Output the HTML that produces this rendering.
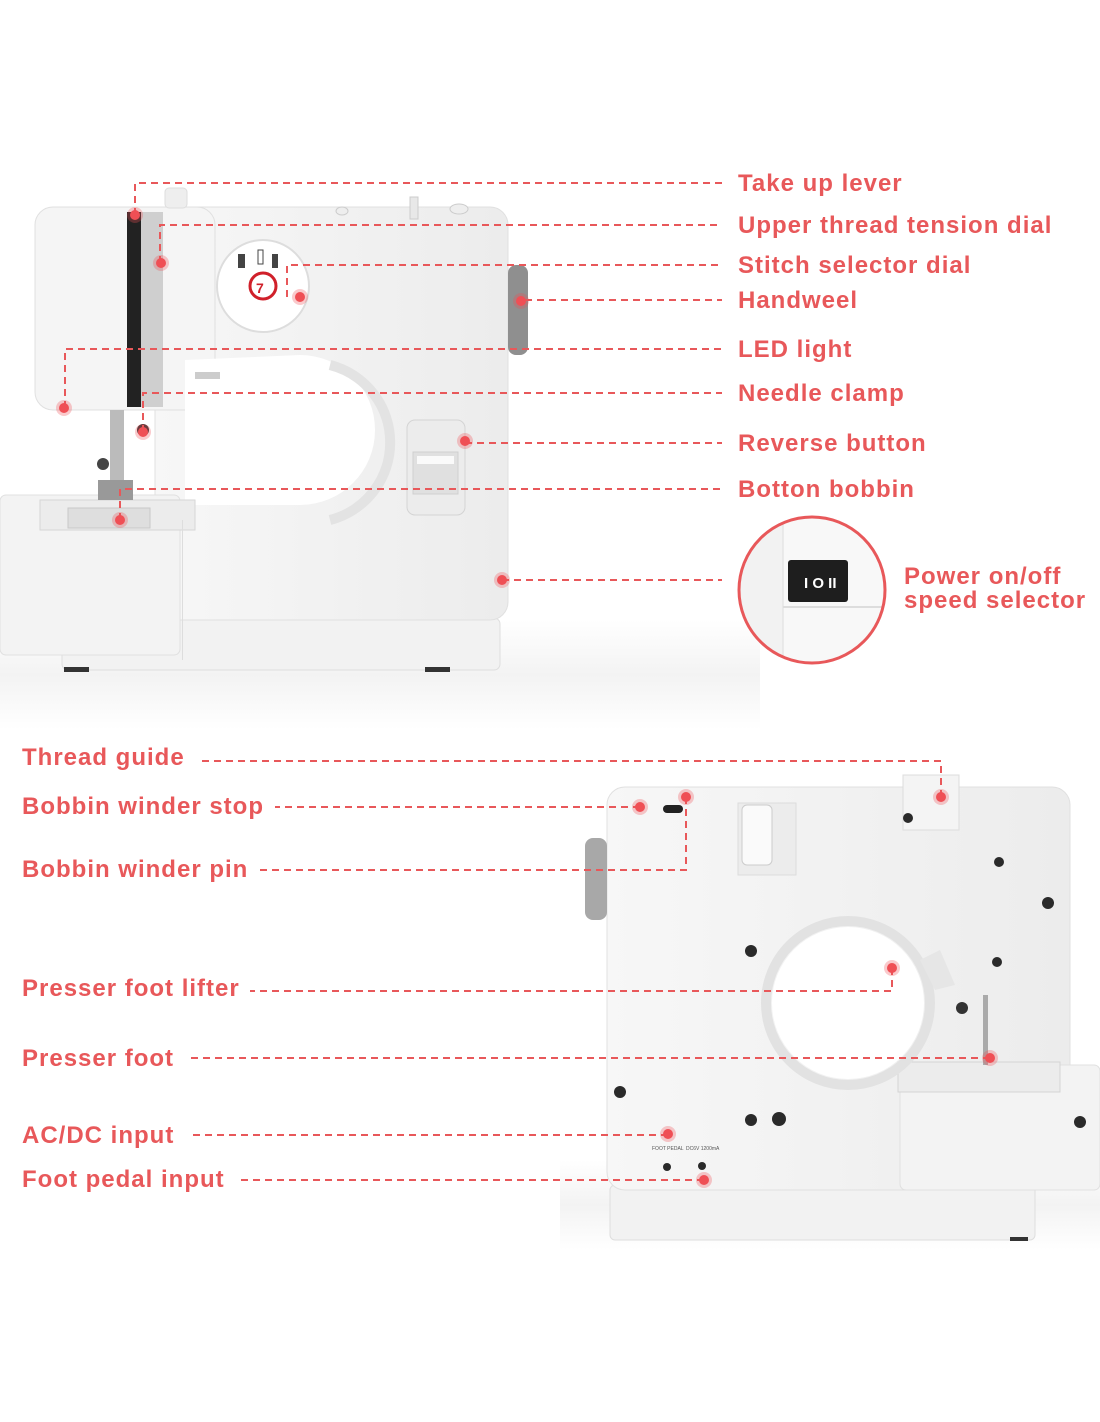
<!DOCTYPE html>
<html><head><meta charset="utf-8"><style>
html,body{margin:0;padding:0;background:#fff;}
svg{display:block}
text{font-family:"Liberation Sans","DejaVu Sans",sans-serif;font-weight:bold;fill:#e8585a;font-size:24px;letter-spacing:1px}
.d{stroke:#e8585a;stroke-width:2;stroke-dasharray:7,5;fill:none}
.dot{fill:#ef4f55}
.dh{fill:#ef4f55;opacity:.3}
</style></head><body>
<svg width="1100" height="1422" viewBox="0 0 1100 1422" xmlns="http://www.w3.org/2000/svg">
<defs>
<linearGradient id="bg" x1="0" y1="0" x2="0" y2="1"><stop offset="0" stop-color="#fff"/><stop offset=".5" stop-color="#f3f3f3"/><stop offset="1" stop-color="#fff"/></linearGradient>
<linearGradient id="body" x1="0" y1="0" x2="1" y2="0"><stop offset="0" stop-color="#f7f7f7"/><stop offset="1" stop-color="#ececec"/></linearGradient>
</defs>
<rect x="0" y="620" width="760" height="110" fill="url(#bg)"/>
<rect x="560" y="1160" width="540" height="90" fill="url(#bg)"/>

<!-- ===== TOP MACHINE ===== -->
<rect x="62" y="618" width="438" height="52" rx="6" fill="#f2f2f2" stroke="#dedede"/>
<rect x="155" y="207" width="353" height="413" rx="18" fill="url(#body)" stroke="#e0e0e0"/>
<rect x="35" y="207" width="180" height="203" rx="18" fill="#f5f5f5" stroke="#e0e0e0"/>
<path d="M185 360 L300 355 A75 75 0 0 1 300 505 L185 505 Z" fill="#fff"/>
<path d="M330 365 A80 80 0 0 1 330 520" stroke="#e3e3e3" stroke-width="10" fill="none"/>
<rect x="0" y="495" width="180" height="160" rx="6" fill="#f3f3f3" stroke="#e0e0e0"/>
<rect x="40" y="500" width="155" height="30" fill="#ececec" stroke="#d6d6d6"/>
<rect x="68" y="508" width="82" height="20" fill="#dedede" stroke="#c8c8c8"/>
<rect x="127" y="212" width="14" height="195" fill="#222"/>
<rect x="141" y="212" width="22" height="195" fill="#cfcfcf"/>
<rect x="110" y="410" width="14" height="80" fill="#bbb"/>
<circle cx="103" cy="464" r="6" fill="#444"/>
<rect x="98" y="480" width="35" height="20" fill="#999"/>
<circle cx="143" cy="430" r="6" fill="#333"/>
<rect x="195" y="372" width="25" height="7" fill="#ccc"/>
<rect x="165" y="188" width="22" height="20" rx="4" fill="#eee" stroke="#ddd"/>
<rect x="410" y="197" width="8" height="22" fill="#e8e8e8" stroke="#ccc"/>
<ellipse cx="459" cy="209" rx="9" ry="5" fill="#eee" stroke="#ccc"/>
<ellipse cx="342" cy="211" rx="6" ry="4" fill="#eee" stroke="#ccc"/>
<circle cx="263" cy="286" r="46" fill="#fff" stroke="#ddd" stroke-width="2"/>
<circle cx="263" cy="286" r="13" fill="#fff" stroke="#d0202a" stroke-width="3"/>
<text x="256" y="293" style="font-size:14px;fill:#d0202a;letter-spacing:0">7</text>
<rect x="238" y="254" width="7" height="14" fill="#444"/>
<rect x="258" y="250" width="5" height="14" fill="none" stroke="#444"/>
<rect x="272" y="254" width="6" height="14" fill="#444"/>
<rect x="508" y="265" width="20" height="90" rx="8" fill="#8f8f8f"/>
<rect x="407" y="420" width="58" height="95" rx="8" fill="#ececec" stroke="#d4d4d4"/>
<rect x="413" y="452" width="45" height="42" fill="#e0e0e0" stroke="#cfcfcf"/>
<rect x="417" y="456" width="37" height="8" fill="#fafafa"/>
<rect x="182" y="520" width="1" height="140" fill="#ddd"/>
<rect x="64" y="667" width="25" height="5" fill="#333"/><rect x="425" y="667" width="25" height="5" fill="#333"/>

<path class="d" d="M135 215 V183 H722"/>
<path class="d" d="M160 263 V225 H722"/>
<path class="d" d="M287 297 V265 H722"/>
<path class="d" d="M525 300 H722"/>
<path class="d" d="M65 408 V349 H722"/>
<path class="d" d="M143 432 V393 H722"/>
<path class="d" d="M465 443 H722"/>
<path class="d" d="M120 520 V489 H722"/>
<path class="d" d="M502 580 H722"/>
<g>
<circle class="dh" cx="135" cy="215" r="8"/><circle class="dot" cx="135" cy="215" r="5"/>
<circle class="dh" cx="161" cy="263" r="8"/><circle class="dot" cx="161" cy="263" r="5"/>
<circle class="dh" cx="300" cy="297" r="8"/><circle class="dot" cx="300" cy="297" r="5"/>
<circle class="dh" cx="521" cy="301" r="8"/><circle class="dot" cx="521" cy="301" r="5"/>
<circle class="dh" cx="64" cy="408" r="8"/><circle class="dot" cx="64" cy="408" r="5"/>
<circle class="dh" cx="143" cy="432" r="8"/><circle class="dot" cx="143" cy="432" r="5"/>
<circle class="dh" cx="465" cy="441" r="8"/><circle class="dot" cx="465" cy="441" r="5"/>
<circle class="dh" cx="120" cy="520" r="8"/><circle class="dot" cx="120" cy="520" r="5"/>
<circle class="dh" cx="502" cy="580" r="8"/><circle class="dot" cx="502" cy="580" r="5"/>
</g>
<text x="738" y="191">Take up lever</text>
<text x="738" y="233">Upper thread tension dial</text>
<text x="738" y="273">Stitch selector dial</text>
<text x="738" y="308">Handweel</text>
<text x="738" y="357">LED light</text>
<text x="738" y="401">Needle clamp</text>
<text x="738" y="451">Reverse button</text>
<text x="738" y="497">Botton bobbin</text>
<clipPath id="cc"><circle cx="812" cy="590" r="72"/></clipPath>
<g clip-path="url(#cc)">
<rect x="730" y="510" width="170" height="160" fill="#f2f2f2"/>
<rect x="783" y="510" width="120" height="160" fill="#f8f8f8" stroke="#ddd"/>
<rect x="783" y="606" width="120" height="2" fill="#ddd"/>
<rect x="788" y="560" width="60" height="42" rx="3" fill="#1e1e1e"/>
<text x="804" y="588" style="fill:#fff;font-size:15px;letter-spacing:0">I O II</text>
</g>
<circle cx="812" cy="590" r="73" fill="none" stroke="#e8585a" stroke-width="3"/>
<text x="904" y="584">Power on/off</text>
<text x="904" y="608">speed selector</text>

<!-- ===== BOTTOM MACHINE ===== -->
<rect x="610" y="1185" width="425" height="55" rx="5" fill="#f2f2f2" stroke="#dedede"/>
<rect x="607" y="787" width="463" height="403" rx="18" fill="url(#body)" stroke="#e0e0e0"/>
<rect x="900" y="1065" width="200" height="125" rx="6" fill="#f3f3f3" stroke="#e0e0e0"/>
<rect x="898" y="1062" width="162" height="30" fill="#ececec" stroke="#d4d4d4"/>
<circle cx="848" cy="1003" r="82" fill="none" stroke="#e2e2e2" stroke-width="10"/>
<circle cx="848" cy="1003" r="76" fill="#fff"/>
<path d="M920 960 L940 950 L955 985 L935 990 Z" fill="#e6e6e6"/>
<rect x="903" y="775" width="56" height="55" fill="#f4f4f4" stroke="#ddd"/>
<rect x="738" y="803" width="58" height="72" fill="#ececec" stroke="#dcdcdc"/>
<rect x="742" y="805" width="30" height="60" rx="5" fill="#fafafa" stroke="#ccc"/>
<rect x="585" y="838" width="22" height="82" rx="8" fill="#a8a8a8"/>
<rect x="663" y="805" width="20" height="8" rx="4" fill="#222"/>
<rect x="983" y="995" width="5" height="70" fill="#aaa"/>
<circle cx="962" cy="1008" r="6" fill="#333"/>
<g fill="#2a2a2a">
<circle cx="908" cy="818" r="5"/><circle cx="999" cy="862" r="5"/><circle cx="1048" cy="903" r="6"/>
<circle cx="751" cy="951" r="6"/><circle cx="997" cy="962" r="5"/><circle cx="620" cy="1092" r="6"/>
<circle cx="751" cy="1120" r="6"/><circle cx="779" cy="1119" r="7"/><circle cx="1080" cy="1122" r="6"/>
<circle cx="667" cy="1167" r="4"/><circle cx="702" cy="1166" r="4"/>
</g>
<text x="652" y="1150" style="font-size:5px;fill:#555;font-weight:normal;letter-spacing:0">FOOT PEDAL</text>
<text x="686" y="1150" style="font-size:5px;fill:#555;font-weight:normal;letter-spacing:0">DC6V 1200mA</text>
<rect x="1010" y="1237" width="18" height="4" fill="#333"/>

<path class="d" d="M941 797 V761 H198"/>
<path class="d" d="M640 807 H275"/>
<path class="d" d="M686 797 V870 H260"/>
<path class="d" d="M892 968 V991 H250"/>
<path class="d" d="M990 1058 H186"/>
<path class="d" d="M668 1135 H192"/>
<path class="d" d="M704 1180 H240"/>
<g>
<circle class="dh" cx="941" cy="797" r="8"/><circle class="dot" cx="941" cy="797" r="5"/>
<circle class="dh" cx="640" cy="807" r="8"/><circle class="dot" cx="640" cy="807" r="5"/>
<circle class="dh" cx="686" cy="797" r="8"/><circle class="dot" cx="686" cy="797" r="5"/>
<circle class="dh" cx="892" cy="968" r="8"/><circle class="dot" cx="892" cy="968" r="5"/>
<circle class="dh" cx="990" cy="1058" r="8"/><circle class="dot" cx="990" cy="1058" r="5"/>
<circle class="dh" cx="668" cy="1134" r="8"/><circle class="dot" cx="668" cy="1134" r="5"/>
<circle class="dh" cx="704" cy="1180" r="8"/><circle class="dot" cx="704" cy="1180" r="5"/>
</g>
<text x="22" y="765">Thread guide</text>
<text x="22" y="814">Bobbin winder stop</text>
<text x="22" y="877">Bobbin winder pin</text>
<text x="22" y="996">Presser foot lifter</text>
<text x="22" y="1066">Presser foot</text>
<text x="22" y="1143">AC/DC input</text>
<text x="22" y="1187">Foot pedal input</text>
</svg>
</body></html>
